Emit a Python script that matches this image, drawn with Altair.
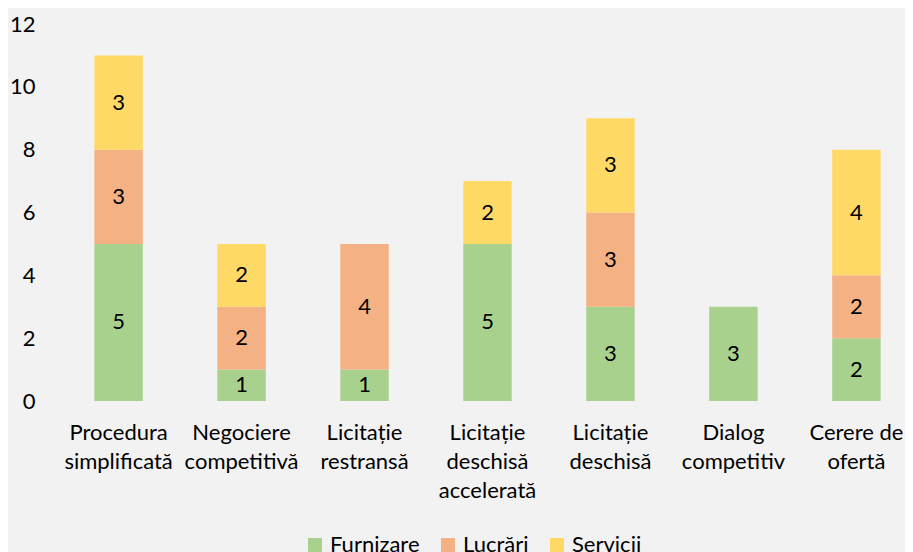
import altair as alt
import pandas as pd

categories = ["Procedura simplificată", "Negociere competitivă", "Licitație restransă",
              "Licitație deschisă accelerată", "Licitație deschisă", "Dialog competitiv",
              "Cerere de ofertă"]
series = ["Furnizare", "Lucrări", "Servicii"]
furnizare = [5, 1, 1, 5, 3, 3, 2]
lucrari = [3, 2, 4, 0, 3, 0, 2]
servicii = [3, 2, 0, 2, 3, 0, 4]
colors = ["#A9D18E", "#F4B183", "#FFD966"]

rows = []
for s_i, (s, vals) in enumerate(zip(series, [furnizare, lucrari, servicii])):
    for c, v in zip(categories, vals):
        if v > 0:
            rows.append({"cat": c, "series": s, "order": s_i, "value": v})
df = pd.DataFrame(rows)

FONT = "Lato"
FS = 22

base = alt.Chart(df).transform_stack(
    stack="value", groupby=["cat"], as_=["y0", "y1"],
    sort=[alt.SortField("order", order="ascending")]
).transform_calculate(mid="(datum.y0 + datum.y1) / 2")

xenc = alt.X("cat:N", sort=categories, title=None,
             scale=alt.Scale(paddingInner=0.606, paddingOuter=0.19),
             axis=alt.Axis(labelAngle=0, domain=False, ticks=False, labelFont=FONT,
                           labelFontSize=FS, labelColor="#000000", labelPadding=21,
                           labelLineHeight=29, labelBaseline="top",
                           labelExpr="datum.label == 'Cerere de ofertă' ? ['Cerere de', 'ofertă'] : split(datum.label, ' ')"))

bars = base.mark_bar().encode(
    x=xenc,
    y=alt.Y("y0:Q", title=None, scale=alt.Scale(domain=[0, 12]),
            axis=alt.Axis(values=list(range(0, 13, 2)), domain=False, ticks=False, grid=False,
                          labelFont=FONT, labelFontSize=FS, labelColor="#000000",
                          labelPadding=36)),
    y2="y1:Q",
    color=alt.Color("series:N", sort=series, title=None,
                    scale=alt.Scale(domain=series, range=colors),
                    legend=alt.Legend(orient="none", legendX=233, legendY=510,
                                      direction="horizontal", symbolType="square",
                                      symbolSize=196, symbolStrokeWidth=0,
                                      labelFont=FONT, labelFontSize=FS,
                                      labelColor="#000000", columnPadding=17,
                                      labelOffset=4, padding=0)),
)

texts = base.mark_text(font=FONT, fontSize=FS, color="#000000", baseline="middle").encode(
    x=alt.X("cat:N", sort=categories),
    y=alt.Y("mid:Q"),
    text=alt.Text("value:Q"),
)

chart = alt.layer(bars, texts).properties(
    width=833, height=377,
    background="#F2F2F2",
    padding={"left": 63, "top": 16, "right": 1, "bottom": 151},
    autosize=alt.AutoSizeParams(type="none"),
).configure_view(stroke=None)

chart.save("out.html", embed_options={"renderer": "svg", "actions": False})
